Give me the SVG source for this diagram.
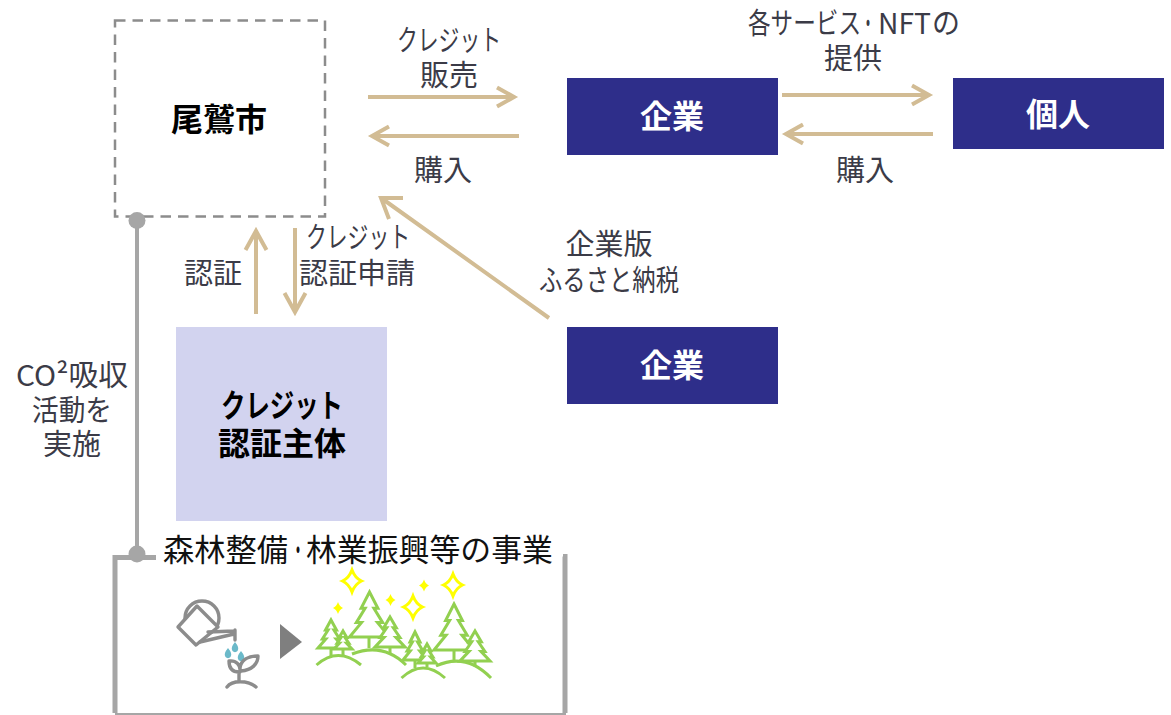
<svg xmlns="http://www.w3.org/2000/svg" width="1171" height="715" viewBox="0 0 1171 715">
<style>
text{font-family:"Noto Sans CJK JP","Noto Sans",sans-serif;text-anchor:middle}
.l{font-size:29px;fill:#3b3b47}
.k{font-size:31px;fill:#111;text-anchor:start}
.b{font-size:32px;font-weight:700;fill:#000}
.w{font-size:32px;font-weight:700;fill:#fff}
.a{fill:none;stroke:#d2bc94;stroke-width:4}
.g{fill:none;stroke:#a6a6a6}
.i{fill:none;stroke:#8c8c8c;stroke-width:3.400;stroke-linejoin:round;stroke-linecap:round}
.t{fill:#fff;stroke:#92d050;stroke-width:3}
.t2{fill:none;stroke:#92d050;stroke-width:3}
.s{fill:#fff;stroke:#ffff00;stroke-width:3}
.f{fill:#ffff00}
</style>
<defs>
<path id="star" d="M0-11Q3-3 9.500 0Q3 3 0 11Q-3 3-9.500 0Q-3-3 0-11Z"/>
<path id="spark" d="M0-6Q1.500-1.500 5 0Q1.500 1.500 0 6Q-1.500 1.500-5 0Q-1.500-1.500 0-6Z"/>
</defs>
<g id="connectors">
<path class="a" d="M368 97H513M497 87.500L514 97L497 106.500"/>
<path class="a" d="M519 136H373M389 126.500L372 136L389 145.500"/>
<path class="a" d="M782 95H928M912 85.500L929 95L912 104.500"/>
<path class="a" d="M933 134H787M803 124.500L786 134L803 143.500"/>
<path class="a" d="M256 314V232M245.500 250L256 231L266.500 250"/>
<path class="a" d="M295 228V311M284.500 293L295 312L305.500 293"/>
<path class="a" d="M549 318L384 200M389 219L381 198L403 198"/>
<path class="g" stroke-width="4" d="M137 221V554"/>
</g>
<g id="node-owase">
<rect x="115" y="20.500" width="210" height="196" fill="#fff" stroke="#8c8c8c" stroke-width="2.500" stroke-dasharray="10.500 7"/>
<circle cx="137" cy="220.500" r="8.500" fill="#a6a6a6"/>
<text class="b" x="219" y="131">尾鷲市</text>
</g>
<g id="node-company1"><rect x="567" y="78" width="211" height="77" fill="#2e2e8a"/><text class="w" x="672" y="128">企業</text></g>
<g id="node-person"><rect x="953" y="78" width="211" height="71" fill="#2e2e8a"/><text class="w" x="1058" y="126">個人</text></g>
<g id="node-company2"><rect x="567" y="327" width="211" height="77" fill="#2e2e8a"/><text class="w" x="672" y="377">企業</text></g>
<g id="node-certifier"><rect x="176" y="327" width="211" height="194" fill="#d2d3ef"/>
<text class="b" x="282" y="417" textLength="122" lengthAdjust="spacingAndGlyphs">クレジット</text>
<text class="b" x="282" y="455">認証主体</text></g>
<g id="labels">
<text class="l" x="449" y="51" textLength="104" lengthAdjust="spacingAndGlyphs">クレジット</text>
<text class="l" x="449" y="86">販売</text>
<text class="l" x="443" y="181">購入</text>
<text class="l" x="748" y="34" style="text-anchor:start"><tspan x="748" textLength="113" lengthAdjust="spacingAndGlyphs">各サービス</tspan><tspan x="861" textLength="14" lengthAdjust="spacingAndGlyphs">・</tspan><tspan x="878" textLength="53" lengthAdjust="spacingAndGlyphs">NFT</tspan><tspan x="932" textLength="28" lengthAdjust="spacingAndGlyphs">の</tspan></text>
<text class="l" x="853" y="69">提供</text>
<text class="l" x="865" y="181">購入</text>
<text class="l" x="213" y="284">認証</text>
<text class="l" x="358" y="248" textLength="104" lengthAdjust="spacingAndGlyphs">クレジット</text>
<text class="l" x="357" y="284">認証申請</text>
<text class="l" x="609" y="255">企業版</text>
<text class="l" x="609" y="291" textLength="140" lengthAdjust="spacingAndGlyphs">ふるさと納税</text>
<text class="l" x="72" y="386" textLength="112" lengthAdjust="spacingAndGlyphs">CO²吸収</text>
<text class="l" x="72" y="421" textLength="80" lengthAdjust="spacingAndGlyphs">活動を</text>
<text class="l" x="72" y="455">実施</text>
</g>
<g id="node-project">
<path class="g" stroke-width="5" d="M156 557.500H115V713M563 556.500H565V713"/>
<path stroke="#a6a6a6" stroke-width="2" fill="none" d="M115 714H566"/>
<circle cx="137" cy="554" r="8.500" fill="#a6a6a6"/>
<text class="k" x="163" y="561"><tspan x="163" textLength="125" lengthAdjust="spacingAndGlyphs">森林整備</tspan><tspan x="291" textLength="14" lengthAdjust="spacingAndGlyphs">・</tspan><tspan x="306" textLength="247" lengthAdjust="spacingAndGlyphs">林業振興等の事業</tspan></text>
<g id="can">
<circle class="i" cx="202" cy="618" r="17"/>
<path class="i" style="fill:#fff" d="M178 627L197 606L218 627L196 645Z"/>
<path class="i" d="M200 642L234 634M208 632L234 631M235 630V640"/>
<path fill="#6bb9c9" d="M235 642q5 6 2.500 9a3.300 3.300 0 0 1-5 0q-2.500-3 2.500-9zM228 648q5 6 2.500 9a3.300 3.300 0 0 1-5 0q-2.500-3 2.500-9zM241 651q5 6 2.500 9a3.300 3.300 0 0 1-5 0q-2.500-3 2.500-9z"/>
<path class="i" d="M239 682V672C231 672 229 667 229 661C236 660 241 665 240 672M240 668C241 660 248 656 258 656C258 664 252 670 241 671M227 687C232 680 248 680 256 687"/>
<path fill="#7f7f7f" d="M280 624L302 642L280 659Z"/>
</g>
<g id="forest">
<path class="t" d="M369.500 592L377.900 608.200H373.900L382.700 622.600H377.500L389.500 637H349.500L361.500 622.600H356.300L365.100 608.200H361.100Z"/>
<path class="t" d="M454 604L462.400 620.600H458.400L467.200 635.300H462L474 650H434L446 635.300H440.800L449.600 620.600H445.600Z"/>
<path class="t" d="M390 617L396.300 627.800H393.300L399.900 637.400H396L405 647H375L384 637.400H380.100L386.700 627.800H383.700Z"/>
<path class="t" d="M475 631L481.300 641.800H478.300L484.900 651.400H481L490 661H460L469 651.400H465.100L471.700 641.800H468.700Z"/>
<path class="t" d="M331 620L336.500 630.100H333.900L339.600 639H336.200L344 648H318L325.800 639H322.400L328.100 630.100H325.500Z"/>
<path class="t" d="M343 631L346.800 637.500H345L348.900 643.200H346.600L352 649H334L339.400 643.200H337.100L341 637.500H339.200Z"/>
<path class="t" d="M415 632L420 642.100H417.600L422.900 651H419.800L427 660H403L410.200 651H407.100L412.400 642.100H410Z"/>
<path class="t" d="M427 644L430.800 650.800H429L432.900 656.900H430.600L436 663H418L423.400 656.900H421.100L425 650.800H423.200Z"/>
<path class="t2" d="M369 637V648M454 650V661M331 648V656M343 649V655M390 647V653M475 661V667M415 660V668M427 663V667"/>
<path class="t2" d="M316.500 665Q338 646 361 665M352 654Q383 642 406 665M401.500 678Q423 658 445 678M436 666Q466 652 491 678"/>
<use href="#star" class="s" transform="translate(352 581)"/>
<use href="#star" class="s" transform="translate(453 585)"/>
<use href="#star" class="s" transform="translate(413 607)"/>
<use href="#spark" class="f" transform="translate(338 608)"/>
<use href="#spark" class="f" transform="translate(390.500 600)"/>
<use href="#spark" class="f" transform="translate(424 585.500)"/>
</g>
</g>
</svg>
